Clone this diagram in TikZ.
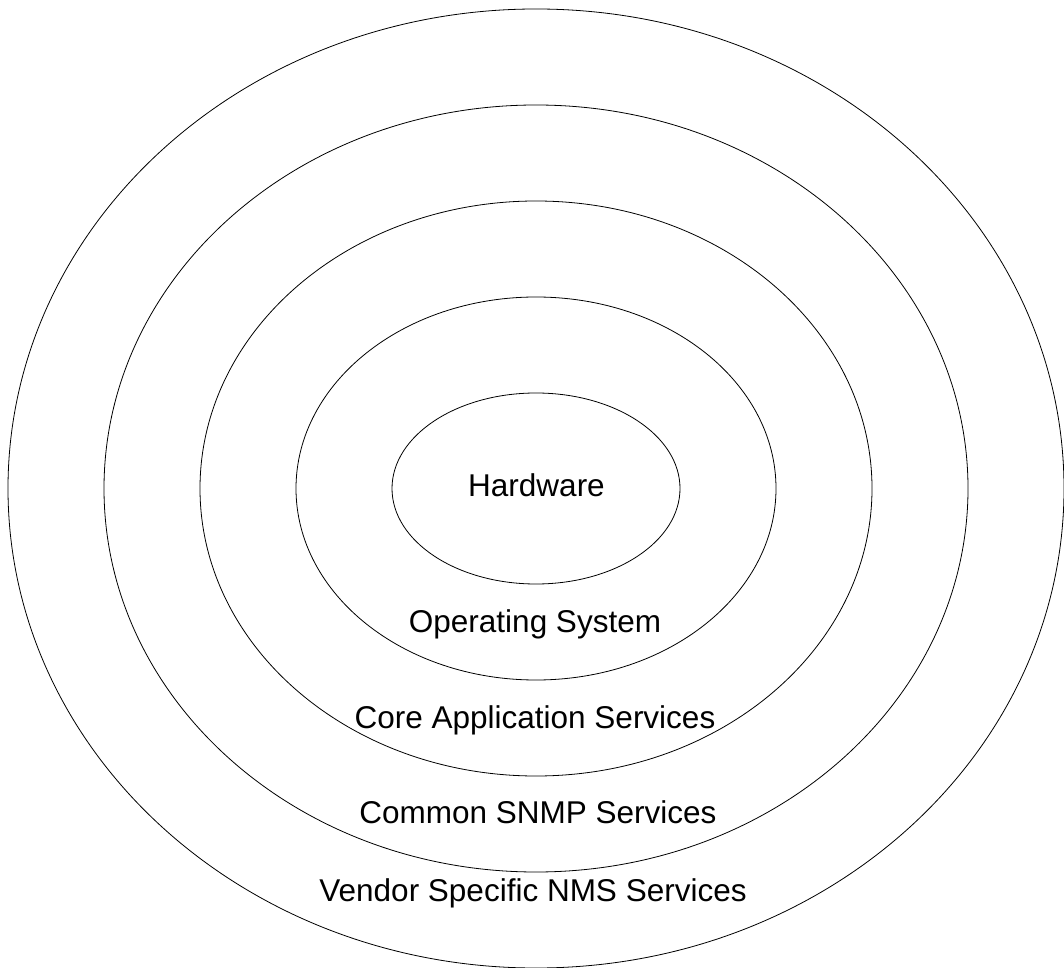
\documentclass[tikz,border=0pt]{standalone}
\usepackage{fontspec}
\setmainfont{Liberation Sans}
\usepackage{tikz}

\begin{document}
\begin{tikzpicture}[x=1pt,y=1pt,
        layer/.style={font=\fontsize{31.5}{36}\selectfont, inner sep=0pt, anchor=base}]
    \useasboundingbox (0,0) rectangle (1064,967);
    \foreach \k in {0,...,4}
        \draw[line width=0.8pt] (536,478.5) ellipse ({144+96*\k} and {95.5+96*\k});
    \node[layer] (hardware) at (536.5,470) {Hardware};
    \node[layer] (opsys) at (535,335) {Operating System};
    \node[layer] (coreapp) at (535,239) {Core Application Services};
    \node[layer] (snmp) at (538,144) {Common SNMP Services};
    \node[layer] (vendor) at (533,66) {Vendor Specific NMS Services};
\end{tikzpicture}
\end{document}
